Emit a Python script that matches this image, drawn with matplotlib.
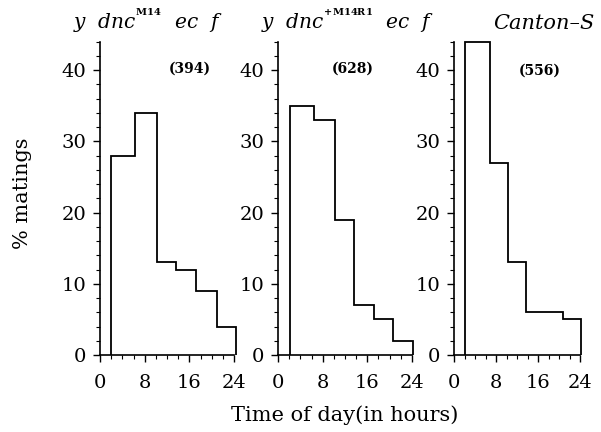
import matplotlib
matplotlib.use("Agg")
import matplotlib.pyplot as plt
from matplotlib.ticker import MultipleLocator

plt.rcParams['font.family'] = ['DejaVu Serif']
plt.rcParams['mathtext.fontset'] = 'dejavuserif'

titles = [r'$\mathit{y\ \ dnc}^{{}^{\mathbf{M14}}}\mathit{\ \ ec\ \ f}$',
          r'$\mathit{y\ \ dnc}^{{}^{\mathbf{+M14R1}}}\mathit{\ \ ec\ \ f}$',
          'Canton\u2013S']
counts = ['(394)', '(628)', '(556)']
edges = [
    [2.0, 6.3, 10.2, 13.6, 17.2, 21.0, 24.4],
    [2.1, 6.5, 10.2, 13.6, 17.2, 20.6, 24.1],
    [2.1, 6.9, 10.2, 13.7, 20.8, 24.2],
]
values = [
    [28, 34, 13, 12, 9, 4],
    [35, 33, 19, 7, 5, 2],
    [44, 27, 13, 6, 5],
]
xticks = [0, 8, 16, 24]
yticks = [0, 10, 20, 30, 40]

W, H = 601, 432
fig = plt.figure(figsize=(W / 100, H / 100), dpi=100)

lefts = [100, 278, 454]
widths = [134, 134, 126]
bottom_px, top_px = 355, 41.7
title_x = [148, 347, 544]
title_size = [14.5, 14.5, 15]
count_pos = [(16.1, 40.2), (13.4, 40.2), (16.3, 40.0)]

for i in range(3):
    ax = fig.add_axes([lefts[i] / W, 1 - bottom_px / H, widths[i] / W, (bottom_px - top_px) / H])
    ax.stairs(values[i], edges[i], baseline=0, fill=False, color='black', lw=1.3, clip_on=False)
    ax.set_xlim(0, 24)
    ax.set_ylim(0, 44)
    ax.set_xticks(xticks)
    ax.set_yticks(yticks)
    ax.xaxis.set_minor_locator(MultipleLocator(2))
    ax.yaxis.set_minor_locator(MultipleLocator(2))
    for s in ['top', 'right']:
        ax.spines[s].set_visible(False)
    for s in ['left', 'bottom']:
        ax.spines[s].set_linewidth(1.2)
    ax.tick_params(axis='both', which='major', direction='out', length=5, width=1.0, labelsize=14)
    ax.tick_params(axis='both', which='minor', direction='out', length=3, width=0.8)
    ax.tick_params(axis='x', which='major', pad=9)
    ax.tick_params(axis='y', which='major', pad=5)
    ax.text(count_pos[i][0], count_pos[i][1], counts[i], ha='center', va='center',
            fontsize=10, fontweight='bold')
    ax.patch.set_alpha(0)
    fig.text(title_x[i] / W, 1 - 29 / H, titles[i], ha='center', va='baseline',
             fontsize=title_size[i], fontstyle='italic')

fig.text(345 / W, 1 - 415 / H, 'Time of day(in hours)', ha='center', va='center', fontsize=15)
fig.text(23 / W, 1 - 193 / H, '% matings', ha='center', va='center', rotation=90, fontsize=15)

fig.savefig('out.png', dpi=100)
